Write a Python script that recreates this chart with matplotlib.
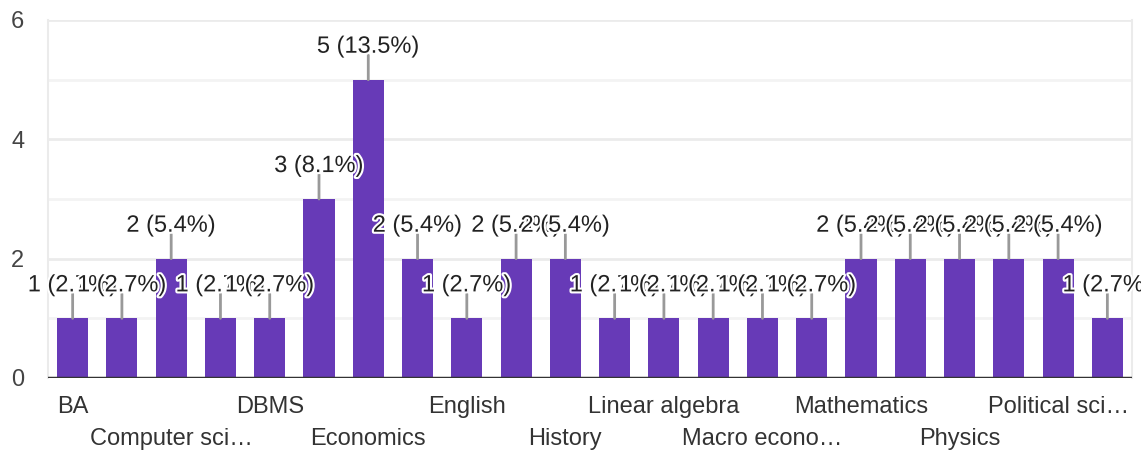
import matplotlib.pyplot as plt
import matplotlib.patheffects as pe

# category names (odd ones are hidden in the chart, not readable)
categories = ["BA", "", "Computer sci…", "", "DBMS", "", "Economics", "",
              "English", "", "History", "", "Linear algebra", "", "Macro econo…", "",
              "Mathematics", "", "Physics", "", "Political sci…", ""]
counts = [1, 1, 2, 1, 1, 3, 5, 2, 1, 2, 2, 1, 1, 1, 1, 1, 2, 2, 2, 2, 2, 1]
y_ticks = [0, 2, 4, 6]

bar_color = "#673AB7"
plt.rcParams['font.family'] = ['Liberation Sans', 'DejaVu Sans']

fig = plt.figure(figsize=(11.41, 4.53), dpi=100)
ax = fig.add_axes([48 / 1141, 1 - 378 / 453, (1132 - 48) / 1141, (378 - 20) / 453])

x = list(range(len(counts)))
ax.bar(x, counts, width=0.63, color=bar_color, zorder=2)

ax.set_xlim(-0.5, len(counts) - 0.5)
ax.set_ylim(0, 6)

# grid
for v in [1, 3, 5]:
    ax.axhline(v, color="#f3f3f3", lw=2, zorder=0)
for v in [2, 4, 6]:
    ax.axhline(v, color="#ebebeb", lw=2, zorder=0)
ax.axhline(0, color="#333333", lw=2.5, zorder=3)

for s in ["top", "bottom"]:
    ax.spines[s].set_visible(False)
for s in ["left", "right"]:
    ax.spines[s].set_color("#ebebeb")
    ax.spines[s].set_linewidth(1.5)

ax.set_yticks(y_ticks)
ax.tick_params(axis="y", length=0, pad=17, labelsize=17, labelcolor="#444444")

# x labels on two staggered rows
row1 = [i for i in x if i % 4 == 0]
row2 = [i for i in x if i % 4 == 2]
ax.set_xticks(row1, [categories[i] for i in row1])
ax.set_xticks(row2, [categories[i] for i in row2], minor=True)
ax.tick_params(axis="x", which="both", length=0, labelsize=17, labelcolor="#333333")
ax.tick_params(axis="x", which="major", pad=13)
ax.tick_params(axis="x", which="minor", pad=36)

# value labels with leader lines
total = sum(counts)
halo = [pe.withStroke(linewidth=3, foreground="white")]
for i, c in enumerate(counts):
    ax.annotate("", xy=(i, c), xytext=(0, 17.6), textcoords="offset points",
                arrowprops=dict(arrowstyle="-", color="#999999", lw=2,
                                shrinkA=0, shrinkB=0),
                annotation_clip=False, zorder=4)
    ax.annotate(f"{c} ({c / total * 100:.1f}%)", xy=(i, c), xytext=(0, 19.4),
                textcoords="offset points", ha="center", va="baseline",
                fontsize=17, color="#222222", path_effects=halo,
                annotation_clip=False, zorder=5)

fig.savefig("out.png", dpi=100)
